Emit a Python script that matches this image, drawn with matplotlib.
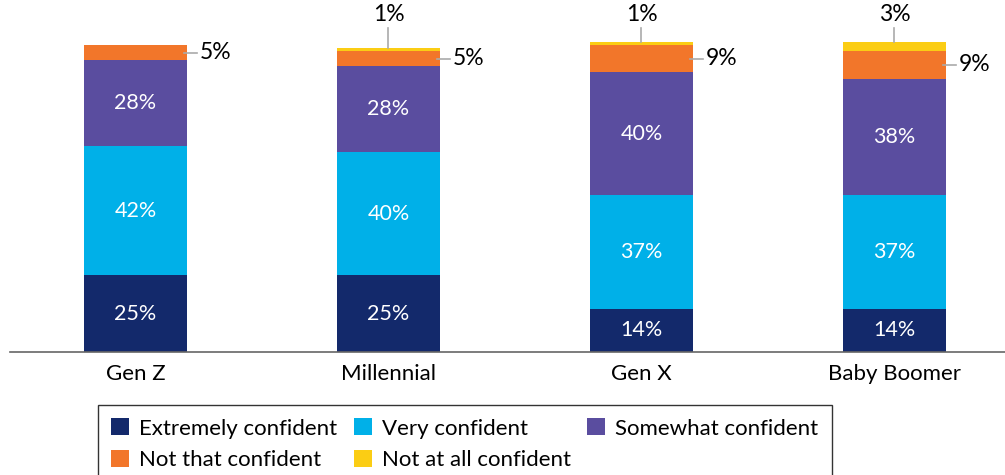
import numpy as np
import matplotlib.pyplot as plt

plt.rcParams['font.family'] = ['Lato', 'DejaVu Sans']

gens = ["Gen Z", "Millennial", "Gen X", "Baby Boomer"]
levels = ["Extremely confident", "Very confident", "Somewhat confident",
          "Not that confident", "Not at all confident"]
extremely = [25, 25, 14, 14]
very = [42, 40, 37, 37]
somewhat = [28, 28, 40, 38]
not_that = [5, 5, 9, 9]
not_at_all = [0, 1, 1, 3]

colors = ["#13296b", "#00b0e8", "#5a4d9f", "#f2762a", "#fbcd14"]
series = [extremely, very, somewhat, not_that, not_at_all]

fig = plt.figure(figsize=(10.05, 4.75), dpi=100)
ax = fig.add_axes([10 / 1005, 123 / 475, 995 / 1005, 352 / 475])

x = np.arange(len(gens))
width = 0.407
bottom = np.zeros(len(gens))
handles = []
for vals, col, name in zip(series, colors, levels):
    vals = np.array(vals)
    bars = ax.bar(x, vals, width, bottom=bottom, color=col, label=name)
    handles.append(bars)
    # big segments get their value written inside in white
    for xi, b, v in zip(x, bottom, vals):
        if v >= 10:
            ax.text(xi, b + v / 2, f"{v}%", ha="center", va="center",
                    color="white", fontsize=15.5)
    bottom += vals

# small "not that confident" values sit to the right with a short leader
base = np.array(extremely) + np.array(very) + np.array(somewhat)
for xi, b, v in zip(x, base, not_that):
    ym = b + v / 2
    ax.plot([xi + width / 2 - 0.01, xi + width / 2 + 0.04], [ym, ym],
            color="#aaaaaa", lw=1.2, clip_on=False)
    ax.text(xi + width / 2 + 0.05, ym, f"{v}%", ha="left", va="center",
            color="black", fontsize=16.5)

# "not at all confident" values above the bars
top = base + np.array(not_that)
for xi, t, v in zip(x, top, not_at_all):
    if v == 0:
        continue
    ax.plot([xi, xi], [t + v, 105.5], color="#aaaaaa", lw=1.2)
    ax.text(xi, 110.0, f"{v}%", ha="center", va="center",
            color="black", fontsize=16.5)

ax.set_xlim(-0.496, 3.437)
ax.set_ylim(0, 114.6)
for s in ["top", "right", "left"]:
    ax.spines[s].set_visible(False)
ax.spines["bottom"].set_color("#666666")
ax.spines["bottom"].set_linewidth(1.2)
ax.set_yticks([])
ax.set_xticks(x)
ax.set_xticklabels(gens, fontsize=16)
ax.tick_params(axis="x", length=0, pad=9)

order = [0, 3, 1, 4, 2]
leg = fig.legend([handles[i] for i in order], [levels[i] for i in order],
                 ncol=3, loc="upper left", bbox_to_anchor=(98 / 1005, 1 - 405 / 475),
                 borderaxespad=0, fontsize=16, frameon=True, fancybox=False,
                 edgecolor="black", handlelength=0.8, handleheight=0.8,
                 handletextpad=0.45, columnspacing=0.75, labelspacing=0.5,
                 borderpad=0.6)
leg.get_frame().set_linewidth(1.0)

fig.savefig("out.png", dpi=100)
